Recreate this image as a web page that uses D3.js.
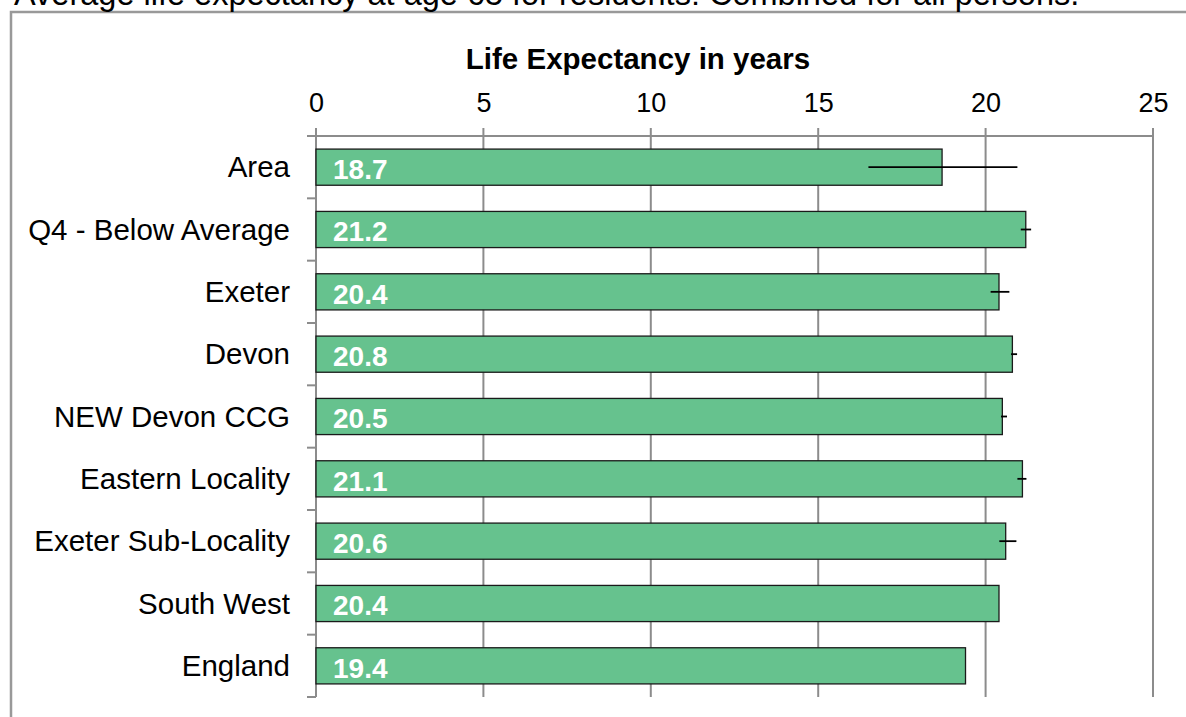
<!DOCTYPE html>
<html>
<head>
<meta charset="utf-8">
<script src="https://cdn.jsdelivr.net/npm/d3@7/dist/d3.min.js"></script>
<style>
  html, body { margin: 0; padding: 0; background: #fff; }
  svg { display: block; font-family: "Liberation Sans", Arial, sans-serif; }
</style>
</head>
<body>
<svg id="chart" width="1186" height="717"></svg>
<script>
// Life expectancy at 65, persons, by area
const categories = ["Area", "Q4 - Below Average", "Exeter", "Devon", "NEW Devon CCG",
  "Eastern Locality", "Exeter Sub-Locality", "South West", "England"];
const values = [18.7, 21.2, 20.4, 20.8, 20.5, 21.1, 20.6, 20.4, 19.4];
// 95% confidence interval bounds (null where none is shown)
const ciLower = [16.5, 21.05, 20.15, 20.76, 20.46, 20.95, 20.41, null, null];
const ciUpper = [20.95, 21.36, 20.71, 20.94, 20.64, 21.22, 20.92, null, null];
const tickValues = [0, 5, 10, 15, 20, 25];

const svg = d3.select("#chart");
const plotLeft = 316, plotRight = 1153, plotTop = 136, plotBottom = 697;

const x = d3.scaleLinear().domain([0, 25]).range([plotLeft, plotRight]);
const y = d3.scaleBand().domain(categories).range([plotTop, plotBottom]).paddingInner(0.42).paddingOuter(0.21);
const yBands = d3.scaleBand().domain(categories).range([plotTop, plotBottom]);

// Outer frame (runs past the right and bottom page edges)
svg.append("rect")
  .attr("x", 11).attr("y", 12).attr("width", 1300).attr("height", 800)
  .attr("fill", "none").attr("stroke", "#999").attr("stroke-width", 2.5);

// Page heading sitting above the frame
svg.append("text")
  .attr("x", 14).attr("y", 5)
  .attr("font-size", 32.5).attr("fill", "#000")
  .text("Average life expectancy at age 65 for residents: Combined for all persons.");

// Vertical gridlines with tick stubs above the plot
const grid = svg.append("g");
grid.selectAll("line").data(tickValues).join("line")
  .attr("x1", d => x(d)).attr("x2", d => x(d))
  .attr("y1", plotTop - 8).attr("y2", plotBottom)
  .attr("stroke", "#8c8c8c").attr("stroke-width", 2);
svg.append("line")
  .attr("x1", x(0)).attr("x2", x(25))
  .attr("y1", plotTop).attr("y2", plotTop)
  .attr("stroke", "#8c8c8c").attr("stroke-width", 2);

// Top axis labels
const xAxis = d3.axisTop(x).tickValues(tickValues).tickSize(0).tickPadding(0);
const gx = svg.append("g").attr("transform", "translate(0,112)").call(xAxis);
gx.select(".domain").remove();
gx.selectAll("text").attr("font-size", 27).attr("fill", "#000")
  .attr("font-family", "Liberation Sans, Arial, sans-serif")
  .attr("dy", 0).attr("y", 0);

// Axis title
svg.append("text")
  .attr("x", 638).attr("y", 69)
  .attr("text-anchor", "middle")
  .attr("font-size", 29.5).attr("font-weight", "bold")
  .text("Life Expectancy in years");

// Left axis: band boundary ticks
const bounds = categories.map(c => yBands(c)).concat([plotBottom]);
svg.selectAll("line.ytick").data(bounds).join("line")
  .attr("class", "ytick")
  .attr("x1", x(0) - 9).attr("x2", x(0))
  .attr("y1", d => d).attr("y2", d => d)
  .attr("stroke", "#8c8c8c").attr("stroke-width", 2);

// Category labels
svg.selectAll("text.cat").data(categories).join("text")
  .attr("class", "cat")
  .attr("x", 290)
  .attr("y", d => yBands(d) + yBands.bandwidth() / 2)
  .attr("dy", "0.35em")
  .attr("text-anchor", "end")
  .attr("font-size", 29.5).attr("fill", "#000")
  .text(d => d);

// Bars
const rows = categories.map((c, i) => ({ c, v: values[i], lo: ciLower[i], hi: ciUpper[i] }));
svg.selectAll("rect.bar").data(rows).join("rect")
  .attr("class", "bar")
  .attr("x", x(0))
  .attr("y", d => y(d.c))
  .attr("width", d => x(d.v) - x(0))
  .attr("height", y.bandwidth())
  .attr("fill", "#66c28e")
  .attr("stroke", "#1a1a1a").attr("stroke-width", 1.3);

// Error bars
svg.selectAll("line.err").data(rows.filter(d => d.lo != null)).join("line")
  .attr("class", "err")
  .attr("x1", d => x(d.lo)).attr("x2", d => x(d.hi))
  .attr("y1", d => y(d.c) + y.bandwidth() / 2)
  .attr("y2", d => y(d.c) + y.bandwidth() / 2)
  .attr("stroke", "#000").attr("stroke-width", 1.8);

// Value labels
svg.selectAll("text.val").data(rows).join("text")
  .attr("class", "val")
  .attr("x", x(0) + 17)
  .attr("y", d => y(d.c) + y.bandwidth() / 2 + 2)
  .attr("dy", "0.35em")
  .attr("font-size", 28).attr("font-weight", "bold").attr("fill", "#fff")
  .text(d => d.v.toFixed(1));
</script>
</body>
</html>
